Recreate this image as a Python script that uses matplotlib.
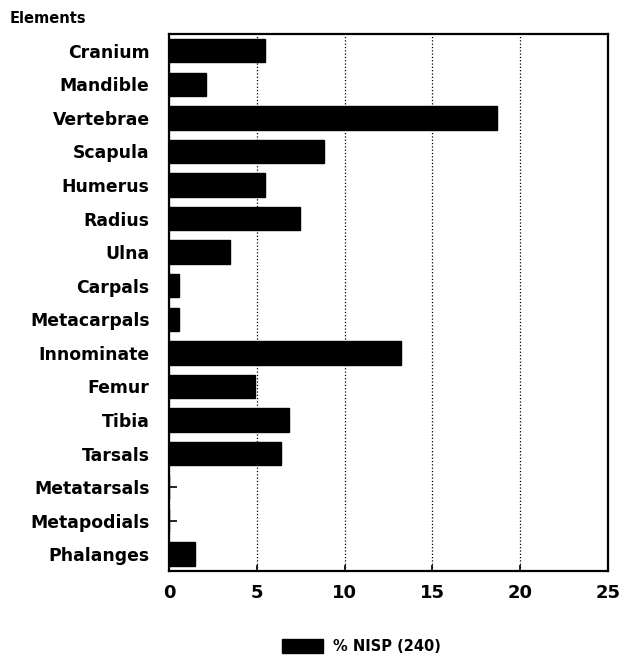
import matplotlib
matplotlib.use('Agg')
import matplotlib.pyplot as plt
import numpy as np

plt.rcParams['font.family'] = ['DejaVu Sans']
plt.rcParams['font.weight'] = 'bold'

elements = ['Cranium', 'Mandible', 'Vertebrae', 'Scapula', 'Humerus', 'Radius',
            'Ulna', 'Carpals', 'Metacarpals', 'Innominate', 'Femur', 'Tibia',
            'Tarsals', 'Metatarsals', 'Metapodials', 'Phalanges']
nisp_pct = [5.45, 2.1, 18.7, 8.8, 5.45, 7.45, 3.45, 0.55, 0.55, 13.2, 4.9,
            6.85, 6.4, 0, 0, 1.5]
xticks = [0, 5, 10, 15, 20, 25]

fig = plt.figure(figsize=(6.25, 6.66), dpi=100)
ax = fig.add_axes([0.2704, 0.1426, 0.7024, 0.8064])

ind = np.arange(len(elements))
ax.barh(ind, nisp_pct, height=0.7, color='black', edgecolor='black',
        label='% NISP (240)', zorder=3)

ax.set_ylim(len(elements) - 0.5, -0.5)
ax.set_xlim(0, 25)
ax.set_yticks(ind)
ax.set_yticklabels(elements, fontsize=12.4, fontweight='bold')
ax.tick_params(axis='y', direction='in', length=6, width=1.2, pad=14)
ax.set_xticks(xticks)
ax.set_xticklabels([str(x) for x in xticks], fontsize=13, fontweight='bold')
ax.tick_params(axis='x', direction='in', length=4, width=1.2, pad=9)

ax.xaxis.grid(True, linestyle=':', color='black', linewidth=0.9, zorder=0)
for s in ax.spines.values():
    s.set_linewidth(1.6)

fig.text(0.016, 0.972, 'Elements', fontsize=10.5, fontweight='bold', ha='left', va='center')

leg = fig.legend(loc='center', bbox_to_anchor=(0.578, 0.029), frameon=False,
                 fontsize=10.5, handlelength=2.8, handleheight=1.1, handletextpad=0.7)

fig.savefig('out.png', dpi=100)
